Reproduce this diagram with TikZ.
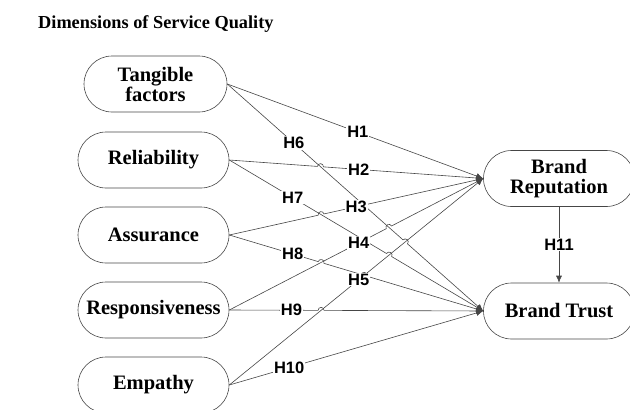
\documentclass[tikz,border=0pt]{standalone}
\usepackage{fontspec}
\setmainfont{Liberation Serif}
\newfontfamily\hypfont{Liberation Sans}
\usetikzlibrary{shapes.misc,arrows.meta,calc,intersections}
\definecolor{mylinegray}{RGB}{70,70,70}
\newcommand{\widthfactor}{153pt}
\newcommand{\heightfactor}{56pt}
\newcommand{\hopradius}{3pt}
\tikzset{
    factor/.style={draw=mylinegray, line width=0.6pt, rounded rectangle, minimum width=\widthfactor, minimum height=\heightfactor, inner sep=1pt, align=center, font=\fontsize{20.5}{20}\selectfont\bfseries},
    outcome/.style={factor},
    hyp/.style={fill=white, inner sep=1pt, font=\hypfont\fontsize{16.5}{16.5}\selectfont\bfseries},
    link/.style={draw=mylinegray, line width=0.6pt, -{Latex[length=7pt,width=6pt]}}
}

\begin{document}
\begin{tikzpicture}[x=1pt, y=-1pt]
    \useasboundingbox (0,0) rectangle (630,410);
    \node[anchor=base west, inner sep=0pt, font=\fontsize{18.3}{20}\selectfont\bfseries] (title) at (38,28) {Dimensions of Service Quality};

    % dimensions
    \node[factor, minimum width=145pt] (tan) at (155.5,84) {Tangible\\factors};
    \node[factor] (rel) at (153.5,160) {Reliability};
    \node[factor] (ass) at (153.5,235) {Assurance};
    \node[factor] (res) at (153.5,310) {Responsiveness};
    \node[factor] (emp) at (153.5,385) {Empathy};

    % outcomes
    \node[outcome] (rep) at (559,178.5) {Brand\\Reputation};
    \node[outcome] (tru) at (559,311) {Brand Trust};

    % paths for the crossings
    \foreach \src/\dst/\i in {tan/rep/1, rel/rep/2, ass/rep/3, res/rep/4, emp/rep/5, tan/tru/6, rel/tru/7, ass/tru/8, res/tru/9, emp/tru/10}
        \path[name path global=h\i] (\src.east) -- (\dst.west);

    % straight links
    \draw[link] (tan.east) -- (rep.west);
    \draw[link] (emp.east) -- (tru.west);
    \draw[link] (rep.south) -- node[hyp] {H11} (tru.north);

    % links with a line jump
    \foreach \src/\dst/\i/\j in {rel/rep/2/6, ass/rep/3/7, res/rep/4/6, emp/rep/5/8, tan/tru/6/5, rel/tru/7/5, ass/tru/8/4, res/tru/9/5}
        \draw[link, name intersections={of={h\i} and {h\j}, by=hop}]
            let \p1=($(\dst.west)-(\src.east)$), \n1={atan2(\y1,\x1)} in
            (\src.east) -- ($(hop)!\hopradius!(\src.east)$)
            arc[start angle=\n1+180, delta angle=-180, radius=\hopradius] -- (\dst.west);

    % hypothesis labels on top
    \foreach \src/\dst/\ps/\h in {tan/rep/0.51/H1, rel/rep/0.51/H2, ass/rep/0.5/H3, res/rep/0.51/H4, emp/rep/0.51/H5,
                                  tan/tru/0.26/H6, rel/tru/0.25/H7, ass/tru/0.25/H8, res/tru/0.245/H9, emp/tru/0.236/H10}
        \path (\src.east) -- node[hyp, pos=\ps] {\h} (\dst.west);
\end{tikzpicture}
\end{document}
